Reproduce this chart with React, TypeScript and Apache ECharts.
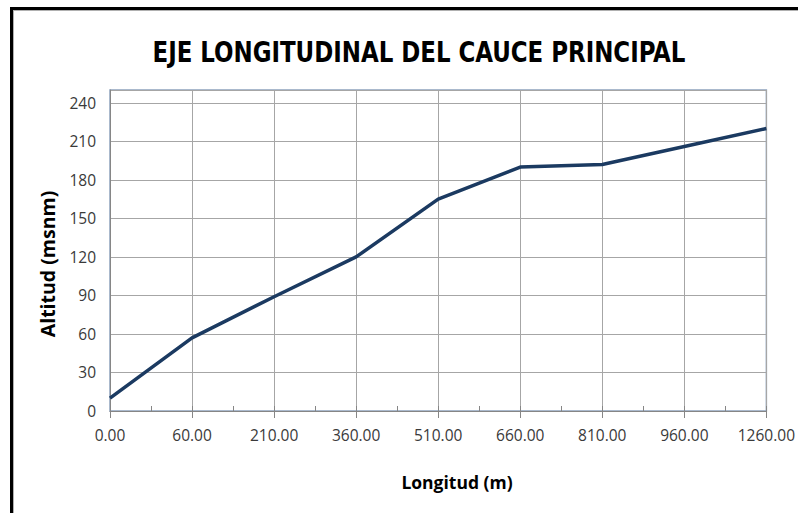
import React, { useEffect, useRef } from "react";
import * as echarts from "echarts";

const title = "EJE LONGITUDINAL DEL CAUCE PRINCIPAL";
const xName = "Longitud (m)";
const yName = "Altitud (msnm)";
const categories = ["0.00", "60.00", "210.00", "360.00", "510.00", "660.00", "810.00", "960.00", "1260.00"];
const altitudes = [10, 57, 89, 120, 165, 190, 192, 206, 220];
const yMin = 0;
const yMax = 250;
const yStep = 30;

export default function App() {
  const ref = useRef<HTMLDivElement>(null);
  useEffect(() => {
    if (!ref.current) return;
    const chart = echarts.init(ref.current, null, { renderer: "svg" });
    const labelFont = "'Open Sans', 'Noto Sans', sans-serif";
    chart.setOption({
      animation: false,
      backgroundColor: "#ffffff",
      grid: {
        left: 110,
        right: 31,
        top: 90,
        bottom: 102,
        show: true,
        borderColor: "#8ea3bd",
        borderWidth: 1.5,
      },
      xAxis: [
        {
          type: "category",
          data: categories,
          boundaryGap: false,
          axisLine: { show: true, lineStyle: { color: "#868686", width: 1 } },
          axisTick: { show: true, length: 7, inside: false, lineStyle: { color: "#868686" } },
          axisLabel: { color: "#3a3a3a", fontSize: 15.5, fontFamily: labelFont, margin: 16 },
          splitLine: { show: true, lineStyle: { color: "#a6a6a6", width: 1 } },
        },
        {
          type: "value",
          min: 0,
          max: categories.length - 1,
          interval: 0.5,
          position: "bottom",
          axisLine: { show: false },
          axisTick: { show: true, inside: true, length: 5, lineStyle: { color: "#868686" } },
          axisLabel: { show: false },
          splitLine: { show: false },
        },
      ],
      yAxis: {
        type: "value",
        min: yMin,
        max: yMax,
        interval: yStep,
        axisLine: { show: true, lineStyle: { color: "#868686", width: 1 } },
        axisTick: { show: false },
        axisLabel: {
          color: "#3a3a3a",
          fontSize: 15.5,
          fontFamily: labelFont,
          margin: 14,
          formatter: (v: number) => (v % yStep === 0 ? String(v) : ""),
        },
        splitLine: { show: true, lineStyle: { color: "#a6a6a6", width: 1 } },
      },
      series: [
        {
          type: "line",
          xAxisIndex: 0,
          data: altitudes,
          symbol: "none",
          lineStyle: { color: "#1b3a61", width: 3.5 },
          z: 5,
        },
      ],
      graphic: [
        { type: "rect", shape: { x: 10, y: 7, width: 800, height: 3 }, style: { fill: "#000000" } },
        { type: "rect", shape: { x: 10, y: 10, width: 800, height: 1 }, style: { fill: "#b0b0b0" } },
        { type: "rect", shape: { x: 10, y: 7, width: 3, height: 520 }, style: { fill: "#000000" } },
        { type: "rect", shape: { x: 13, y: 10, width: 1, height: 520 }, style: { fill: "#b0b0b0" } },
        {
          type: "text",
          x: 419,
          y: 52,
          scaleX: 0.91,
          style: {
            text: title,
            fill: "#000000",
            font: "bold 28px 'Liberation Sans Narrow', 'DejaVu Sans Condensed', sans-serif",
            textAlign: "center",
            textVerticalAlign: "middle",
          },
        },
        {
          type: "text",
          x: 457,
          y: 482,
          style: {
            text: xName,
            fill: "#000000",
            font: "bold 17.5px " + labelFont,
            textAlign: "center",
            textVerticalAlign: "middle",
          },
        },
        {
          type: "text",
          x: 47,
          y: 264,
          rotation: Math.PI / 2,
          style: {
            text: yName,
            fill: "#000000",
            font: "bold 19.5px " + labelFont,
            textAlign: "center",
            textVerticalAlign: "middle",
          },
        },
      ],
    });
    return () => chart.dispose();
  }, []);
  return (
    <div
      ref={ref}
      style={{ position: "absolute", left: 0, top: 0, width: 798, height: 513, background: "#fff" }}
    />
  );
}
